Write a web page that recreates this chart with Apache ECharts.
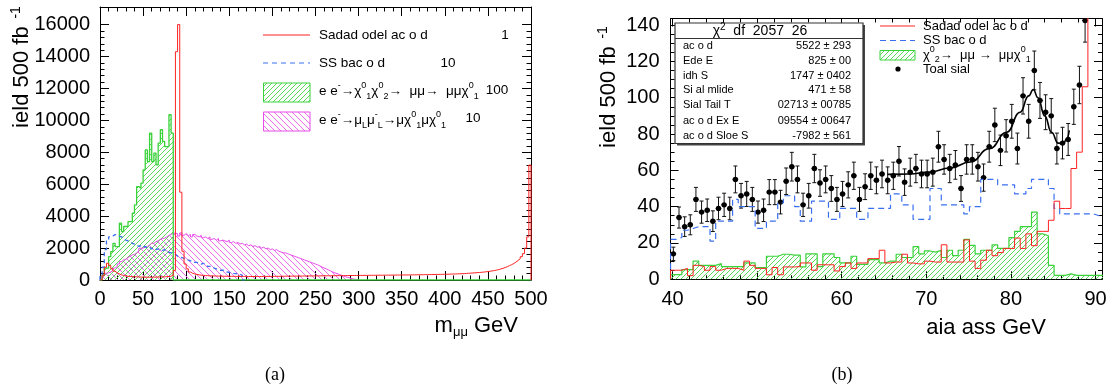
<!DOCTYPE html>
<html>
<head>
<meta charset="utf-8">
<script src="https://cdn.jsdelivr.net/npm/echarts@6/dist/echarts.min.js"></script>
<style>
html, body { margin: 0; padding: 0; background: #fff; }
#chart { width: 1108px; height: 388px; }
</style>
</head>
<body>
<div id="chart"></div>
<script>
// ---- panel (a): m_mumu, 2.5 GeV bins starting at 0 ----
const massBinW = 2.5;
const smBkgMass = [
  0, 300, 800, 1050, 900, 700, 550, 450, 380, 320, 280, 250, 230, 220, 210, 200, 200, 190, 190, 180,
  180, 180, 175, 175, 180, 180, 185, 190, 195, 200, 210, 220, 240, 280, 600, 14300, 16000, 5500, 1800, 1000,
  700, 500, 420, 380, 350, 320, 300, 290, 280, 270, 260, 255, 250, 250, 245, 240, 240, 235, 235, 230,
  230, 228, 226, 225, 225, 224, 222, 220, 220, 220, 222, 220, 220, 218, 220, 222, 224, 225, 225, 226,
  228, 230, 230, 232, 235, 236, 238, 240, 240, 242, 244, 245, 246, 248, 250, 250, 252, 254, 255, 256,
  258, 260, 260, 262, 264, 265, 266, 268, 270, 270, 272, 274, 275, 276, 278, 280, 280, 282, 284, 285,
  286, 288, 290, 290, 292, 294, 295, 296, 298, 300, 300, 302, 304, 305, 306, 308, 310, 310, 312, 314,
  315, 316, 318, 320, 322, 324, 326, 328, 330, 332, 335, 338, 340, 342, 345, 348, 350, 352, 355, 358,
  360, 365, 370, 375, 380, 385, 390, 395, 400, 410, 420, 430, 440, 450, 460, 470, 480, 495, 510, 530,
  550, 570, 590, 620, 650, 690, 730, 780, 830, 900, 960, 1030, 1120, 1220, 1330, 1460, 1650, 2000, 2700, 7200
];
const ssBkgMass = [
  300, 800, 1900, 2500, 2700, 2750, 2850, 2800, 2750, 2700, 2600, 2500, 2450, 2400, 2300, 2250, 2200, 2100, 2150, 2050,
  2100, 2000, 2050, 1950, 2000, 1900, 1950, 1900, 1850, 1900, 1800, 1750, 1700, 1650, 1600, 1500, 1450, 1400, 1350, 1300,
  1250, 1200, 1150, 1100, 1100, 1050, 1000, 1050, 950, 850, 850, 800, 750, 700, 650, 600, 620, 550, 500, 480,
  450, 420, 400, 380, 350, 300, 0
];
const neutralinoMass = [
  0, 300, 750, 750, 1460, 1780, 2300, 2090, 2090, 3560, 3030, 3350, 3350, 3660, 3660, 4180, 4700,
  5850, 5750, 6070, 6900, 8150, 7420, 9200, 7420, 7950, 7210, 8570, 9410, 8680, 8360, 8360, 10350, 9200
];
const smuonMass = [
  0, 250, 420, 450, 500, 600, 750, 830, 1000, 1150, 1250, 1300, 1400, 1500, 1570, 1600, 1700, 1800, 1990, 2000,
  2050, 2100, 2200, 2300, 2300, 2400, 2450, 2550, 2600, 2620, 2700, 2800, 2850, 2930, 2930, 2900, 2750, 2950, 2800, 2900,
  2780, 2850, 2700, 2850, 2750, 2700, 2800, 2650, 2700, 2600, 2700, 2550, 2600, 2500, 2600, 2450, 2500, 2450, 2400, 2500,
  2350, 2400, 2300, 2350, 2250, 2300, 2200, 2250, 2150, 2200, 2100, 2150, 2050, 2100, 2000, 2050, 1950, 2000, 1900, 1950,
  1850, 1900, 1800, 1750, 1700, 1700, 1650, 1600, 1550, 1500, 1450, 1400, 1350, 1300, 1250, 1200, 1150, 1100, 1050, 1000,
  950, 880, 820, 750, 700, 630, 570, 500, 450, 400, 350, 300, 250, 200, 160, 120, 80, 50, 30, 10
];

// ---- panel (b): invariant mass, 2/3 GeV bins starting at 39.77 ----
const invLo = 39.77;
const invBinW = 2 / 3;
const totalSignal = [
  14, 34, 29, 30, 44, 37, 38, 32, 39, 41, 39, 55, 46, 47, 44, 37, 38, 48, 48, 42.5,
  54, 62, 55, 41, 46, 61, 53, 55, 50, 44, 47, 52, 57, 44, 51, 57, 54.5, 58, 54.5, 57,
  65, 53.5, 59, 61, 58, 58, 59, 73, 66, 61, 63, 50, 66, 66, 62, 56, 73, 85, 71, 79,
  87, 72, 101, 87, 115, 98.5, 92, 90, 72, 75, 77, 95, 107, 142.5
];
const totalSignalErr = [
  3.7, 5.8, 5.4, 5.5, 6.6, 6.1, 6.2, 5.7, 6.2, 6.4, 6.2, 7.4, 6.8, 6.9, 6.6, 6.1, 6.2, 6.9, 6.9, 6.5,
  7.3, 7.9, 7.4, 6.4, 6.8, 7.8, 7.3, 7.4, 7.1, 6.6, 6.9, 7.2, 7.5, 6.6, 7.1, 7.5, 7.4, 7.6, 7.4, 7.5,
  8.1, 7.3, 7.7, 7.8, 7.6, 7.6, 7.7, 8.5, 8.1, 7.8, 7.9, 7.1, 8.1, 8.1, 7.9, 7.5, 8.5, 9.2, 8.4, 8.9,
  9.3, 8.5, 10, 9.3, 10.7, 9.9, 9.6, 9.5, 8.5, 8.7, 8.8, 9.7, 10.3, 11.9
];
const ssBkgInv = [
  22, 23, 27, 28, 29, 29, 29, 21, 32, 32, 32, 44, 40, 40, 40, 28, 28, 32, 32, 42,
  46, 46, 40, 32, 32, 43, 43, 43, 33, 33, 39, 39, 39, 33, 33, 39, 39, 39, 39, 47,
  47, 41, 41, 33, 33, 33, 50, 50, 41, 41, 41, 41, 36, 40, 40, 55, 55, 55, 52, 52,
  52, 47, 47, 50, 55, 55, 55, 50, 39, 36, 36, 36, 36, 36, 36, 35, 35
];
const smBkgInv = [
  5, 5, 6, 2, 7.7, 7, 5, 7, 5, 6, 6, 6, 5, 10, 7.7, 6, 6, 2.5, 6.5, 2.5, 6.8, 6.8, 7,
  9, 9, 5, 8, 8, 8, 4.6, 7, 9, 6, 9, 9, 11.4, 11.4, 16, 9, 9.5, 9.5, 13.8, 9, 8.5, 8.5, 10,
  9.5, 9.5, 19, 9.5, 9.5, 9.5, 21.7, 10, 6, 10.5, 16, 13, 14.7, 17, 17, 22.7, 17, 25, 18.5, 26.4,
  26.4, 32.5, 43, 39, 39, 61, 70, 106, 160, 160, 160
];
const chi2Inv = [
  2.6, 2.6, 5.3, 5.3, 10, 7.7, 7.7, 7.7, 8.6, 7, 7, 7, 7, 9, 9, 6.5, 6.5, 12.7, 12.7, 13.8, 13.8, 13.3, 13.3,
  6.8, 14, 14, 7, 14, 14, 12, 9, 9, 12.7, 8.2, 8.2, 10.8, 10.8, 9, 10, 10, 13.8, 12, 12, 18, 14, 15.6, 15,
  16, 12, 16, 13, 16, 22, 18.7, 14, 16, 16, 19, 17, 17, 23, 26.4, 29, 29, 37, 25, 24, 7.7,
  2.2, 2.2, 3, 2.2, 2.2, 2.2, 2.2, 2.2, 2.2
];
const fitCurve = [
  [65.4, 57.8], [68, 58], [70.4, 59], [72.8, 61.3], [75.2, 64.6], [77.5, 72], [79.5, 81],
  [81.1, 92], [82.1, 101], [82.65, 104.5], [83.2, 100], [84.0, 90], [84.8, 81], [85.6, 75],
  [86.2, 74.7], [86.6, 77.4], [86.9, 82]
];
const statLabels = ['ac o d', 'Ede E', 'idh S', 'Si al mlide', 'Sial Tail T', 'ac o d Ex E', 'ac o d Sloe S'];
const statValues = ['5522 \u00b1 293', '825 \u00b1 00', '1747 \u00b1 0402', '471 \u00b1 58',
  '02713 \u00b1 00785', '09554 \u00b1 00647', '-7982 \u00b1 561'];

const F = '"Liberation Sans", Arial, sans-serif';
const RED = '#ff2222';
const BLUE = '#3a6ff0';
const GREEN = '#3ad23a';
const PINK = '#e84ce8';

// 斜线填充
function makeHatch(color, size, dir) {
  const c = document.createElement('canvas');
  c.width = size; c.height = size;
  const g = c.getContext('2d');
  g.strokeStyle = color;
  g.lineWidth = 1;
  g.beginPath();
  for (let k = -1; k <= 1; k++) {
    if (dir > 0) { g.moveTo(k * size, size); g.lineTo(k * size + size, 0); }
    else { g.moveTo(k * size, 0); g.lineTo(k * size + size, size); }
  }
  g.stroke();
  return c;
}
const greenHatch = { image: makeHatch('#5ada5a', 5, 1), repeat: 'repeat' };
const pinkHatch = { image: makeHatch('#ec6aec', 6, -1), repeat: 'repeat' };

function steps(vals, lo, w) {
  const pts = [[lo, 0]];
  vals.forEach((v, i) => { pts.push([lo + i * w, v], [lo + (i + 1) * w, v]); });
  pts.push([lo + vals.length * w, 0]);
  return pts;
}

function hist(data, xi, yi, color, extra) {
  return Object.assign({
    type: 'line', xAxisIndex: xi, yAxisIndex: yi, data: data,
    symbol: 'none', showSymbol: false, silent: true, clip: true,
    lineStyle: { color: color, width: 1 }
  }, extra || {});
}

const noAxis = { type: 'value', show: false, splitLine: { show: false } };
function frameAxis(grid, pos, min, max) {
  return {
    type: 'value', gridIndex: grid, position: pos, min: min, max: max,
    axisLine: { show: true, onZero: false, lineStyle: { color: '#000', width: 1 } },
    axisTick: { show: false }, minorTick: { show: false },
    axisLabel: { show: false }, splitLine: { show: false }
  };
}
function tickAxis(grid, pos, min, max, interval, len, minorSplit, labels, margin) {
  return {
    type: 'value', gridIndex: grid, position: pos, min: min, max: max, interval: interval,
    axisLine: { show: false, onZero: false },
    axisTick: { show: true, inside: true, length: len, lineStyle: { color: '#000', width: 1 } },
    minorTick: { show: true, splitNumber: minorSplit, length: len / 2, lineStyle: { color: '#000', width: 1 } },
    axisLabel: { show: labels, color: '#000', fontSize: 20, fontFamily: F, margin: margin,
      showMinLabel: true, showMaxLabel: true, formatter: function (v) { return String(v); } },
    splitLine: { show: false }
  };
}

const chart = echarts.init(document.getElementById('chart'));

const pointData = totalSignal.map((v, i) => [invLo + (i + 0.5) * invBinW, v, totalSignalErr[i]]);

function richText(x, y, text, size, extra) {
  const base = { fontSize: size, fontFamily: F, fill: '#000', color: '#000', lineHeight: size + 6 };
  const small = Math.round(size * 0.68);
  return Object.assign({
    type: 'text', x: x, y: y, z: 50,
    style: {
      text: text, fill: '#000', font: size + 'px ' + F,
      align: 'left', textAlign: 'left', verticalAlign: 'middle', textVerticalAlign: 'middle',
      rich: {
        m: base,
        u: { fontSize: small, fontFamily: F, fill: '#000', color: '#000', verticalAlign: 'top', lineHeight: small + 1 },
        d: { fontSize: small, fontFamily: F, fill: '#000', color: '#000', verticalAlign: 'bottom', lineHeight: small + 1 }
      }
    }
  }, extra || {});
}
function plainText(x, y, text, size, align, extra) {
  return Object.assign({
    type: 'text', x: x, y: y, z: 50,
    style: { text: text, fill: '#000', font: size + 'px ' + F,
      align: align, textAlign: align, verticalAlign: 'middle', textVerticalAlign: 'middle' }
  }, extra || {});
}

const graphics = [
  // panel (a) legend
  { type: 'line', z: 50, shape: { x1: 263, y1: 35, x2: 310, y2: 35 }, style: { stroke: RED, lineWidth: 1 } },
  plainText(319, 35, 'Sadad odel ac o d', 13.5, 'left'),
  plainText(505, 35, '1', 13.5, 'center'),
  { type: 'line', z: 50, shape: { x1: 263, y1: 63, x2: 310, y2: 63 }, style: { stroke: BLUE, lineWidth: 1, lineDash: [5, 4] } },
  plainText(319, 63, 'SS bac o d', 13.5, 'left'),
  plainText(448, 63, '10', 13.5, 'center'),
  { type: 'rect', z: 50, shape: { x: 263.5, y: 83, width: 46.5, height: 19 }, style: { fill: greenHatch, stroke: GREEN, lineWidth: 1 } },
  richText(319, 91, '{m|e e}{u|-}{m|\u2192\u03c7}{u|0}{d|1}{m|\u03c7}{u|0}{d|2}{m|\u2192  \u03bc\u03bc\u2192  \u03bc\u03bc\u03c7}{u|0}{d|1}', 13.5),
  plainText(497, 90, '100', 13.5, 'center'),
  { type: 'rect', z: 50, shape: { x: 263.5, y: 112, width: 46.5, height: 19 }, style: { fill: pinkHatch, stroke: PINK, lineWidth: 1 } },
  richText(319, 120, '{m|e e}{u|-}{m|\u2192\u03bc}{d|L}{m|\u03bc}{u|-}{d|L}{m|\u2192\u03bc\u03c7}{u|0}{d|1}{m|\u03bc\u03c7}{u|0}{d|1}', 13.5),
  plainText(473, 118, '10', 13.5, 'center'),

  // panel (b) legend
  { type: 'line', z: 50, shape: { x1: 880, y1: 26, x2: 915, y2: 26 }, style: { stroke: RED, lineWidth: 1 } },
  plainText(923, 26, 'Sadad odel ac o d', 13, 'left'),
  { type: 'line', z: 50, shape: { x1: 880, y1: 40.5, x2: 915, y2: 40.5 }, style: { stroke: BLUE, lineWidth: 1, lineDash: [6, 4] } },
  plainText(923, 40.5, 'SS bac o d', 13, 'left'),
  { type: 'rect', z: 50, shape: { x: 880, y: 50.5, width: 35, height: 9.5 }, style: { fill: greenHatch, stroke: GREEN, lineWidth: 1 } },
  richText(923, 55, '{m|\u03c7}{u|0}{d|2}{m|\u2192  \u03bc\u03bc \u2192  \u03bc\u03bc\u03c7}{u|0}{d|1}', 13),
  { type: 'circle', z: 50, shape: { cx: 898, cy: 69, r: 2.6 }, style: { fill: '#000' } },
  plainText(923, 69, 'Toal sial', 13, 'left'),

  // fit statistics box
  { type: 'rect', z: 49, shape: { x: 677, y: 25, width: 188, height: 120.5 }, style: { fill: '#444' } },
  { type: 'rect', z: 50, shape: { x: 675, y: 23, width: 188, height: 120.5 }, style: { fill: '#fff', stroke: '#333', lineWidth: 1.2 } },
  { type: 'line', z: 50, shape: { x1: 675, y1: 38.5, x2: 863, y2: 38.5 }, style: { stroke: '#333', lineWidth: 1.2 } },
  {
    type: 'text', x: 760, y: 31, z: 51,
    style: {
      text: '{h|\u03c7}{s|2}{h|  df  2057  26}', align: 'center', textAlign: 'center',
      verticalAlign: 'middle', textVerticalAlign: 'middle', fill: '#000',
      rich: {
        h: { fontSize: 14, fontFamily: F, fill: '#000', color: '#000', lineHeight: 18 },
        s: { fontSize: 10, fontFamily: F, fill: '#000', color: '#000', verticalAlign: 'top', lineHeight: 11 }
      }
    }
  }
];
const rowY = [45.7, 60.7, 75.8, 90.3, 105.3, 120.5, 135.8];
statLabels.forEach((t, i) => {
  graphics.push(plainText(683, rowY[i], t, 11, 'left', { z: 51 }));
  graphics.push(plainText(851, rowY[i], statValues[i], 11, 'right', { z: 51 }));
});

// axis titles and captions
const titleRich = {
  t: { fontSize: 22, fontFamily: F, fill: '#000', color: '#000', lineHeight: 26 },
  u: { fontSize: 14, fontFamily: F, fill: '#000', color: '#000', verticalAlign: 'top', lineHeight: 14 },
  d: { fontSize: 13, fontFamily: F, fill: '#000', color: '#000', verticalAlign: 'bottom', lineHeight: 13 }
};
graphics.push(
  { type: 'text', x: 22, y: 67, rotation: Math.PI / 2, z: 50,
    style: { text: '{t|ield 500 fb}{u|  -1}', rich: titleRich, fill: '#000',
      align: 'center', textAlign: 'center', verticalAlign: 'middle', textVerticalAlign: 'middle' } },
  { type: 'text', x: 609, y: 87, rotation: Math.PI / 2, z: 50,
    style: { text: '{t|ield 500 fb}{u|  -1}', rich: titleRich, fill: '#000',
      align: 'center', textAlign: 'center', verticalAlign: 'middle', textVerticalAlign: 'middle' } },
  { type: 'text', x: 518, y: 326, z: 50,
    style: { text: '{t|m}{d|\u03bc\u03bc}{t| GeV}', rich: titleRich, fill: '#000',
      align: 'right', textAlign: 'right', verticalAlign: 'middle', textVerticalAlign: 'middle' } },
  plainText(1046, 328, 'aia ass GeV', 22, 'right'),
  { type: 'text', x: 275, y: 375, z: 50,
    style: { text: '(a)', fill: '#000', font: '18px "Liberation Serif", "DejaVu Serif", serif',
      align: 'center', textAlign: 'center', verticalAlign: 'middle', textVerticalAlign: 'middle' } },
  { type: 'text', x: 842, y: 375, z: 50,
    style: { text: '(b)', fill: '#000', font: '18px "Liberation Serif", "DejaVu Serif", serif',
      align: 'center', textAlign: 'center', verticalAlign: 'middle', textVerticalAlign: 'middle' } }
);

const option = {
  animation: false,
  backgroundColor: '#fff',
  grid: [
    { left: 100, top: 7, width: 431, height: 273, containLabel: false, outerBoundsMode: 'none' },
    { left: 100, top: 24.6, width: 431, height: 255.4, containLabel: false, outerBoundsMode: 'none' },
    { left: 670.55, top: 18.5, width: 431.45, height: 260.8, containLabel: false, outerBoundsMode: 'none' },
    { left: 672.5, top: 18.5, width: 423, height: 260.8, containLabel: false, outerBoundsMode: 'none' },
    { left: 670.55, top: 25.04, width: 431.45, height: 254.26, containLabel: false, outerBoundsMode: 'none' }
  ],
  xAxis: [
    Object.assign(tickAxis(0, 'bottom', 0, 500, 50, 9, 5, true, 9),
      { axisLine: { show: true, onZero: false, lineStyle: { color: '#000', width: 1 } } }),
    Object.assign(tickAxis(0, 'top', 0, 500, 50, 9, 5, false, 9),
      { axisLine: { show: true, onZero: false, lineStyle: { color: '#000', width: 1 } } }),
    Object.assign({}, noAxis, { gridIndex: 1, min: 0, max: 500 }),
    frameAxis(2, 'bottom', invLo, invLo + 51),
    frameAxis(2, 'top', invLo, invLo + 51),
    tickAxis(3, 'bottom', 40, 90, 10, 8, 5, true, 10),
    tickAxis(3, 'top', 40, 90, 10, 8, 5, false, 10),
    Object.assign({}, noAxis, { gridIndex: 4, min: invLo, max: invLo + 51 })
  ],
  yAxis: [
    frameAxis(0, 'left', 0, 17100),
    frameAxis(0, 'right', 0, 17100),
    tickAxis(1, 'left', 0, 16000, 2000, 9, 5, true, 10),
    tickAxis(1, 'right', 0, 16000, 2000, 9, 5, false, 10),
    frameAxis(2, 'left', 0, 143.6),
    frameAxis(2, 'right', 0, 143.6),
    Object.assign({}, noAxis, { gridIndex: 3, min: 0, max: 143.6 }),
    tickAxis(4, 'left', 0, 140, 20, 8, 4, true, 11),
    tickAxis(4, 'right', 0, 140, 20, 8, 4, false, 11)
  ],
  graphic: { elements: graphics },
  series: [
    // panel (a)
    hist(steps(smuonMass, 0, massBinW), 0, 0, PINK,
      { areaStyle: { color: pinkHatch, opacity: 1 } }),
    hist(steps(neutralinoMass, 0, massBinW).concat([[500, 0]]), 0, 0, GREEN,
      { areaStyle: { color: greenHatch, opacity: 1 }, lineStyle: { color: GREEN, width: 1.3 } }),
    hist(steps(ssBkgMass, 0, massBinW), 0, 0, BLUE,
      { lineStyle: { color: BLUE, width: 1.3, type: [4, 3] } }),
    hist(steps(smBkgMass, 0, massBinW), 0, 0, RED),

    // panel (b)
    hist(steps(ssBkgInv, invLo, invBinW), 3, 4, BLUE,
      { lineStyle: { color: BLUE, width: 1.2, type: [6, 4] } }),
    hist(steps(chi2Inv, invLo, invBinW), 3, 4, GREEN,
      { areaStyle: { color: greenHatch, opacity: 1 }, lineStyle: { color: GREEN, width: 1.2 } }),
    hist(steps(smBkgInv, invLo, invBinW), 3, 4, RED),
    {
      type: 'line', xAxisIndex: 3, yAxisIndex: 4, data: fitCurve, symbol: 'none',
      smooth: 0.5, smoothMonotone: 'x', silent: true,
      lineStyle: { color: '#000', width: 1.6 }
    },
    {
      type: 'custom', xAxisIndex: 3, yAxisIndex: 4, data: pointData, clip: true, silent: true,
      encode: { x: 0, y: 1 },
      renderItem: function (params, api) {
        const x = api.value(0), y = api.value(1), e = api.value(2);
        const p = api.coord([x, y]);
        const top = api.coord([x, y + e])[1];
        const bot = api.coord([x, y - e])[1];
        const l = api.coord([x - invBinW / 2, y])[0];
        const r = api.coord([x + invBinW / 2, y])[0];
        const st = { stroke: '#111', lineWidth: 1 };
        return {
          type: 'group',
          children: [
            { type: 'line', shape: { x1: p[0], y1: top, x2: p[0], y2: bot }, style: st },
            { type: 'line', shape: { x1: p[0] - 2, y1: top, x2: p[0] + 2, y2: top }, style: st },
            { type: 'line', shape: { x1: p[0] - 2, y1: bot, x2: p[0] + 2, y2: bot }, style: st },
            { type: 'line', shape: { x1: l, y1: p[1], x2: r, y2: p[1] }, style: st },
            { type: 'circle', shape: { cx: p[0], cy: p[1], r: 2.7 }, style: { fill: '#000' } }
          ]
        };
      }
    }
  ]
};

chart.setOption(option);
</script>
</body>
</html>
